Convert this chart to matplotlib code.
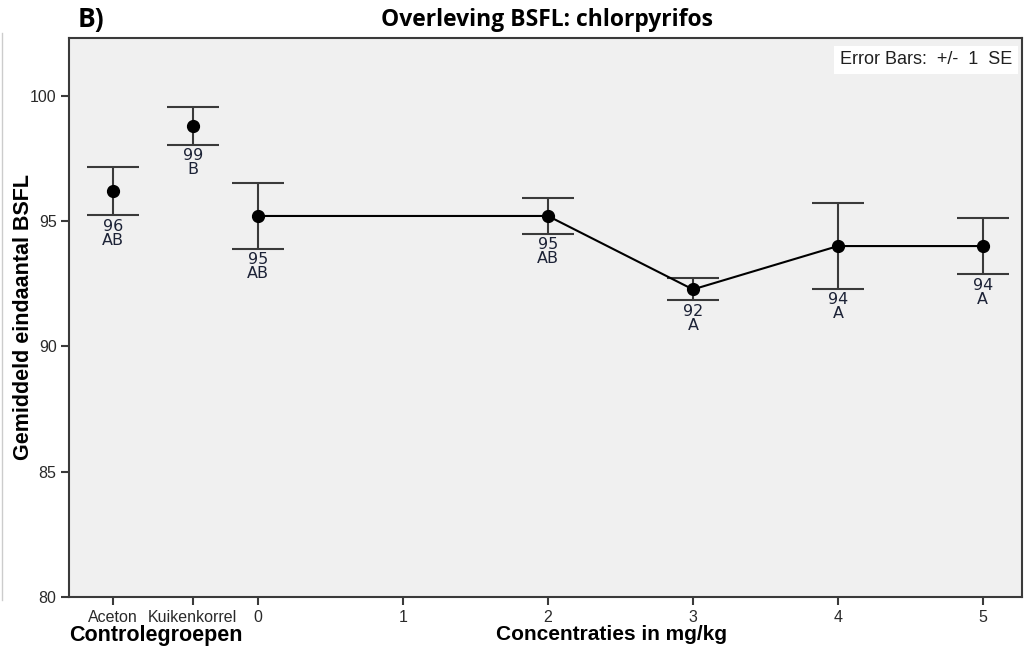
import matplotlib
matplotlib.use("Agg")
import matplotlib.pyplot as plt
from matplotlib.lines import Line2D

# ---- data ----
control_labels = ["Aceton", "Kuikenkorrel"]
control_x = [-1.0, -0.45]
control_mean = [96.2, 98.8]
control_se = [0.97, 0.76]
control_round = ["96", "99"]
control_letters = ["AB", "B"]

conc_x = [0, 2, 3, 4, 5]
conc_mean = [95.2, 95.2, 92.27, 94.0, 94.0]
conc_se = [1.3, 0.71, 0.44, 1.7, 1.12]
conc_round = ["95", "95", "92", "94", "94"]
conc_letters = ["AB", "AB", "A", "A", "A"]

conc_ticks = [0, 1, 2, 3, 4, 5]
y_ticks = [80, 85, 90, 95, 100]

W, H = 1034, 652
fig = plt.figure(figsize=(W / 100, H / 100), dpi=100)
ax = fig.add_axes([69 / W, (H - 597) / H, (1022 - 69) / W, (597 - 38) / H])
ax.set_facecolor("#f0f0f0")

ax.set_xlim(-1.304, 5.27)
ax.set_ylim(80, 102.3)

ebkw = dict(fmt="none", ecolor="#3a3a3a", elinewidth=1.5, capsize=19, capthick=1.5, zorder=2)
ax.errorbar(control_x, control_mean, yerr=control_se, **ebkw)
ax.errorbar(conc_x, conc_mean, yerr=conc_se, **ebkw)
ax.plot(conc_x, conc_mean, color="black", lw=1.5, zorder=3)
ax.plot(control_x + conc_x, control_mean + conc_mean, "o", color="black", ms=8.5, ls="none", zorder=4)

lblcol = "#1c2236"
for xs, ms, ses, rs, ls in [(control_x, control_mean, control_se, control_round, control_letters),
                            (conc_x, conc_mean, conc_se, conc_round, conc_letters)]:
    for x, m, s, r, l in zip(xs, ms, ses, rs, ls):
        ax.annotate(f"{r}\n{l}", (x, m - s), xytext=(0, -2.5), textcoords="offset points",
                    ha="center", va="top", fontsize=11.5, color=lblcol,
                    family="DejaVu Sans", linespacing=0.92)

ax.set_xticks(control_x + conc_ticks)
ax.set_xticklabels(control_labels + [str(t) for t in conc_ticks])
ax.set_yticks(y_ticks)
ax.tick_params(axis="both", direction="out", length=6, width=1.5, color="#3a3a3a",
               labelsize=11.5, labelcolor="#2a2a2a", pad=3)
for lab in ax.get_xticklabels() + ax.get_yticklabels():
    lab.set_family("Liberation Sans")
for sp in ax.spines.values():
    sp.set_color("#3a3a3a")
    sp.set_linewidth(1.5)

fig.text(1012 / W, 1 - 60 / H, "Error Bars:  +/-  1  SE", ha="right", va="center",
         fontsize=13, family="Liberation Sans", color="#202020",
         bbox=dict(facecolor="white", edgecolor="none", pad=4))

fig.text(24 / W, 1 - 317 / H, "Gemiddeld eindaantal BSFL", rotation=90, ha="center", va="center",
         fontsize=15.5, fontweight="bold", family="Liberation Sans")
fig.text(611 / W, 1 - 634 / H, "Concentraties in mg/kg", ha="center", va="center",
         fontsize=15, fontweight="bold", family="Liberation Sans")
fig.text(69 / W, 1 - 636 / H, "Controlegroepen", ha="left", va="center",
         fontsize=15.5, fontweight="bold", family="Liberation Sans")
fig.text(547 / W, 1 - 20 / H, "Overleving BSFL: chlorpyrifos", ha="center", va="center",
         fontsize=16.5, fontweight="bold", family="Open Sans")
fig.text(78 / W, 1 - 19 / H, "B)", ha="left", va="center",
         fontsize=19, fontweight="bold", family="Open Sans")

fig.add_artist(Line2D([2 / W, 2 / W], [1 - 33 / H, 1 - 600 / H], color="#cccccc", lw=1))

fig.savefig("out.png", dpi=100)
